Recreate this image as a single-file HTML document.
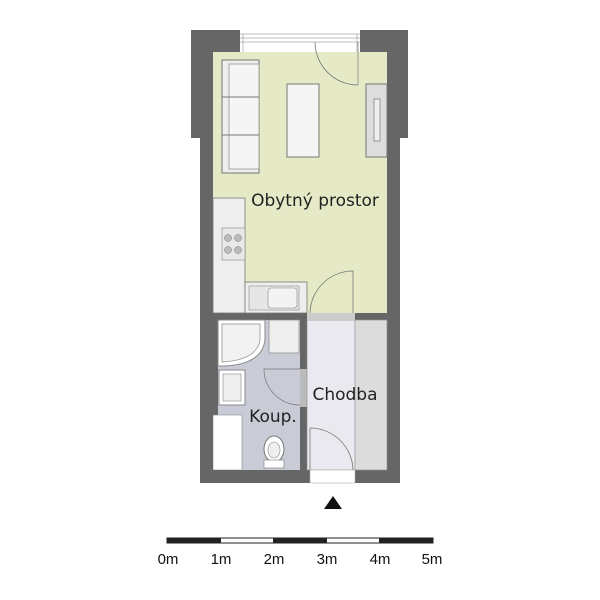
<!DOCTYPE html>
<html><head><style>body{margin:0;background:#fff}svg{display:block}</style></head><body>
<svg width="600" height="600" viewBox="0 0 600 600" xmlns="http://www.w3.org/2000/svg" font-family="Liberation Sans, sans-serif">
<path d="M191 30 H240 V52 H360 V30 H408 V138 H400 V483 H200 V138 H191 Z" fill="#666"/>
<rect x="240" y="30" width="120" height="22" fill="#fff"/>
<g stroke="#aaa" stroke-width="0.8"><line x1="240" y1="34" x2="360" y2="34"/><line x1="240" y1="38" x2="360" y2="38"/><line x1="240" y1="42" x2="360" y2="42"/><line x1="243" y1="34" x2="243" y2="52"/><line x1="357" y1="34" x2="357" y2="52"/></g>
<rect x="213" y="52" width="174" height="261" fill="#e6e9c6"/>
<path d="M315 42 A43 43 0 0 0 358 85" fill="none" stroke="#777" stroke-width="0.8"/>
<line x1="358" y1="42" x2="358" y2="85" stroke="#888" stroke-width="0.8"/>
<rect x="222" y="60" width="37" height="113" fill="#eee" stroke="#777"/>
<rect x="229" y="64" width="30" height="105" fill="#f5f5f5" stroke="#888" stroke-width="0.7"/>
<line x1="222" y1="97" x2="259" y2="97" stroke="#777"/><line x1="222" y1="135" x2="259" y2="135" stroke="#777"/>
<rect x="287" y="84" width="32" height="73" fill="#f5f5f5" stroke="#777"/>
<rect x="366" y="84" width="21" height="73" fill="#ddd" stroke="#777"/>
<rect x="374" y="99" width="6" height="42" fill="#eee" stroke="#777" stroke-width="0.7"/>
<text x="315" y="206" font-size="17" fill="#222" text-anchor="middle" font-family="DejaVu Sans, sans-serif">Obytný prostor</text>
<rect x="213" y="198" width="32" height="115" fill="#eee" stroke="#777" stroke-width="0.8"/>
<rect x="222" y="228" width="23" height="32" fill="#e8e8e8" stroke="#888" stroke-width="0.6"/>
<g fill="#bbb" stroke="#777" stroke-width="0.5"><circle cx="228" cy="238" r="3.5"/><circle cx="238" cy="238" r="3.5"/><circle cx="228" cy="250" r="3.5"/><circle cx="238" cy="250" r="3.5"/></g>
<rect x="245" y="282" width="62" height="31" fill="#eee" stroke="#777" stroke-width="0.8"/>
<rect x="249" y="286" width="50" height="24" fill="#e6e6e6" stroke="#888" stroke-width="0.6"/>
<rect x="268" y="288" width="29" height="20" rx="3" fill="#f3f3f3" stroke="#888" stroke-width="0.6"/>
<path d="M310 313 A43 43 0 0 1 353 271 V313" fill="none" stroke="#777" stroke-width="0.8"/>
<rect x="218" y="320" width="82" height="150" fill="#c9ccd6"/>
<rect x="213" y="415" width="29" height="55" fill="#fff" stroke="#777" stroke-width="0.5"/>
<path d="M218 320 H265 V340 Q262 364 225 366 H218 Z" fill="#fff" stroke="#888"/>
<path d="M222 324 H260 V340 Q257 360 222 362 Z" fill="#f2f2f2" stroke="#888" stroke-width="0.7"/>
<rect x="269" y="320" width="30" height="33" fill="#eee" stroke="#888" stroke-width="0.7"/>
<rect x="219" y="370" width="26" height="35" fill="#fff" stroke="#888"/>
<rect x="223" y="374" width="18" height="27" fill="#eee" stroke="#888" stroke-width="0.6"/>
<path d="M300 369 H264 A36 36 0 0 0 300 405" fill="none" stroke="#777" stroke-width="0.7"/>
<text x="273" y="422" font-size="17" fill="#222" text-anchor="middle" font-family="DejaVu Sans, sans-serif">Koup.</text>
<ellipse cx="274" cy="449" rx="10" ry="13" fill="#fff" stroke="#777"/>
<ellipse cx="274" cy="450" rx="6" ry="8" fill="#eee" stroke="#888" stroke-width="0.6"/>
<rect x="264" y="460" width="20" height="8" fill="#fff" stroke="#777" stroke-width="0.6"/>
<rect x="300" y="369" width="7" height="38" fill="#bbb"/>
<rect x="307" y="320" width="80" height="150" fill="#e9e9ef" stroke="#888" stroke-width="0.6"/>
<rect x="355" y="320" width="32" height="150" fill="#dcdcdc" stroke="#888" stroke-width="0.6"/>
<rect x="307" y="313" width="48" height="7" fill="#ccc"/>
<text x="345" y="400" font-size="17" fill="#222" text-anchor="middle" font-family="DejaVu Sans, sans-serif">Chodba</text>
<path d="M310 470 V428 A43 43 0 0 1 353 470" fill="none" stroke="#777" stroke-width="0.8"/>
<rect x="310" y="470" width="45" height="13" fill="#fff" stroke="#aaa" stroke-width="0.6"/>
<polygon points="333,496 324,509 342,509" fill="#111"/>
<rect x="167" y="538" width="266" height="5" fill="#fff" stroke="#222" stroke-width="1"/>
<g fill="#222"><rect x="167" y="538" width="54" height="5"/><rect x="273" y="538" width="54" height="5"/><rect x="379" y="538" width="54" height="5"/></g>
<g font-size="15" fill="#111" text-anchor="middle"><text x="168" y="564">0m</text><text x="221" y="564">1m</text><text x="274" y="564">2m</text><text x="327" y="564">3m</text><text x="380" y="564">4m</text><text x="432" y="564">5m</text></g>
</svg>
</body></html>
